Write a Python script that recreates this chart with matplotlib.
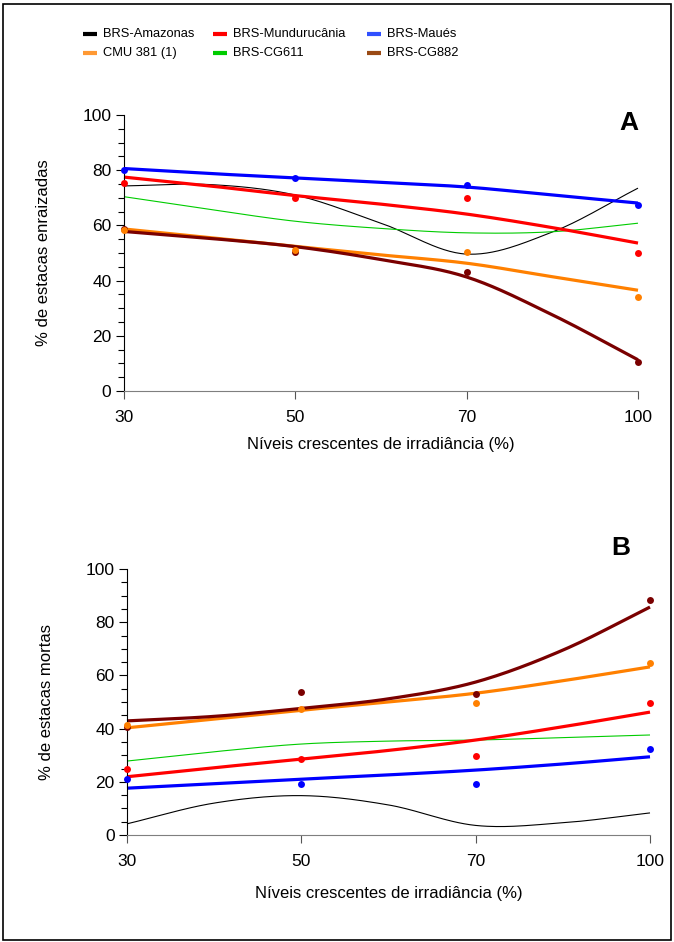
import matplotlib
matplotlib.use("Agg")
import matplotlib.pyplot as plt
import numpy as np
from matplotlib.lines import Line2D
from matplotlib.patches import Rectangle
from matplotlib.ticker import MultipleLocator

plt.rcParams["font.family"] = ["Liberation Sans", "DejaVu Sans"]

# irradiance levels, drawn as evenly spaced categories
LEVELS = ["30", "50", "70", "100"]
CULTIVARS = ["BRS-Amazonas", "BRS-Mundurucânia", "BRS-Maués",
             "CMU 381 (1)", "BRS-CG611", "BRS-CG882"]
COLORS = ["#000000", "#ff0000", "#0000ff", "#ff8000", "#00cc00", "#7a0000"]
LEGEND_COLORS = ["#000000", "#ff0000", "#3050ff", "#ff9933", "#00cc00", "#9a4a14"]
THICK = [False, True, True, True, False, True]

# observed points (series without dots are left out)
rooted_pts = {
    "BRS-Mundurucânia": [75.3, 70.0, 70.0, 50.0],
    "BRS-Maués": [80.0, 77.2, 74.6, 67.4],
    "CMU 381 (1)": [58.3, 51.0, 50.4, 34.0],
    "BRS-CG882": [58.8, 50.3, 43.0, 10.5],
}
dead_pts = {
    "BRS-Mundurucânia": [24.8, 28.6, 29.7, 49.6],
    "BRS-Maués": [21.0, 19.2, 19.2, 32.3],
    "CMU 381 (1)": [41.3, 47.4, 49.6, 64.7],
    "BRS-CG882": [40.6, 53.8, 53.0, 88.3],
}
DOT_ORDER = ["BRS-CG882", "BRS-Mundurucânia", "BRS-Maués", "CMU 381 (1)"]

# fitted trend lines read at every half category (0, 0.5, ..., 3)
rooted_fit = {
    "BRS-Amazonas": [74.3, 74.8, 71.0, 60.8, 49.6, 57.6, 73.5],
    "BRS-Mundurucânia": [77.5, 74.3, 70.8, 67.7, 64.1, 59.2, 53.6],
    "BRS-Maués": [80.6, 78.8, 77.2, 75.6, 73.9, 71.0, 68.1],
    "CMU 381 (1)": [58.7, 55.6, 52.4, 49.3, 46.3, 41.4, 36.5],
    "BRS-CG611": [70.4, 65.8, 61.5, 58.9, 57.3, 57.7, 60.8],
    "BRS-CG882": [57.8, 55.3, 52.3, 47.6, 41.3, 27.6, 11.3],
}
dead_fit = {
    "BRS-Amazonas": [4.2, 12.0, 14.8, 11.3, 3.6, 4.6, 8.3],
    "BRS-Mundurucânia": [21.9, 25.3, 28.5, 31.8, 35.7, 40.7, 46.2],
    "BRS-Maués": [17.6, 19.3, 21.0, 22.6, 24.4, 26.7, 29.4],
    "CMU 381 (1)": [40.3, 43.6, 46.9, 50.0, 53.3, 58.0, 63.2],
    "BRS-CG611": [27.8, 31.3, 34.2, 35.3, 35.7, 36.6, 37.6],
    "BRS-CG882": [42.9, 44.6, 47.6, 51.2, 57.5, 69.5, 85.7],
}


def catmull_rom(xs, ys, n=30):
    xs = np.asarray(xs, float)
    ys = np.asarray(ys, float)
    px = np.concatenate([[2 * xs[0] - xs[1]], xs, [2 * xs[-1] - xs[-2]]])
    py = np.concatenate([[2 * ys[0] - ys[1]], ys, [2 * ys[-1] - ys[-2]]])
    out_x, out_y = [], []
    t = np.linspace(0, 1, n, endpoint=False)
    for i in range(1, len(px) - 2):
        for p, out in ((px, out_x), (py, out_y)):
            p0, p1, p2, p3 = p[i - 1], p[i], p[i + 1], p[i + 2]
            out.extend(0.5 * (2 * p1 + (-p0 + p2) * t
                              + (2 * p0 - 5 * p1 + 4 * p2 - p3) * t ** 2
                              + (-p0 + 3 * p1 - 3 * p2 + p3) * t ** 3))
    out_x.append(xs[-1])
    out_y.append(ys[-1])
    return np.array(out_x), np.array(out_y)


def draw_panel(ax, fits, pts, ylabel, tag, tag_xy, xlabelpad):
    pos = np.arange(len(LEVELS))
    half = np.arange(len(next(iter(fits.values())))) * 0.5
    # thin lines below, thick ones on top
    for name, color, thick in sorted(zip(CULTIVARS, COLORS, THICK), key=lambda k: k[2]):
        sx, sy = catmull_rom(half, fits[name])
        ax.plot(sx, sy, color=color, lw=2.3 if thick else 0.8,
                solid_capstyle='butt', clip_on=False, zorder=2)
    for name in DOT_ORDER:
        color = COLORS[CULTIVARS.index(name)]
        ax.plot(pos, pts[name], 'o', color=color, ms=5, mec='none',
                clip_on=False, zorder=3)
    ax.set_xlim(0, 3)
    ax.set_ylim(0, 100)
    ax.set_xticks(pos)
    ax.set_xticklabels(LEVELS)
    ax.yaxis.set_major_locator(MultipleLocator(20))
    ax.yaxis.set_minor_locator(MultipleLocator(5))
    for s in ('top', 'right'):
        ax.spines[s].set_visible(False)
    ax.spines['left'].set_color('black')
    ax.spines['bottom'].set_color('#7f7f7f')
    ax.tick_params(axis='y', which='major', length=6, width=0.8, pad=3,
                   labelsize=12.5, direction='out')
    ax.tick_params(axis='y', which='minor', length=4, width=0.8, direction='out')
    ax.tick_params(axis='x', length=6, width=0.8, color='#555555', pad=8,
                   labelsize=12.5, direction='out')
    ax.set_xlabel("Níveis crescentes de irradiância (%)", fontsize=12, labelpad=xlabelpad)
    ax.set_ylabel(ylabel, fontsize=12, labelpad=23)
    ax.text(tag_xy[0], tag_xy[1], tag, transform=ax.transAxes, fontsize=19,
            fontweight='bold', ha='center', va='center')


fig = plt.figure(figsize=(6.74, 9.42), dpi=100)
W, H = 674, 942


def fig_axes(left, right, top, bottom):
    return fig.add_axes([left / W, 1 - bottom / H, (right - left) / W, (bottom - top) / H])


ax_a = fig_axes(124, 638, 115, 391)
ax_b = fig_axes(127, 650, 569, 835)
draw_panel(ax_a, rooted_fit, rooted_pts, "% de estacas enraizadas", "A", (0.982, 0.97), 8)
draw_panel(ax_b, dead_fit, dead_pts, "% de estacas mortas", "B", (0.945, 1.08), 12)

# legend, filled row by row
col_x = [83, 213, 367]
row_y = [34, 53]
for i, (name, color) in enumerate(zip(CULTIVARS, LEGEND_COLORS)):
    r, c = divmod(i, 3)
    x0, y0 = col_x[c], row_y[r]
    fig.add_artist(Line2D([x0 / W, (x0 + 14) / W], [1 - y0 / H, 1 - y0 / H],
                          color=color, lw=3, solid_capstyle='butt'))
    fig.text((x0 + 20) / W, 1 - y0 / H, name, fontsize=9.3, va='center', ha='left')

fig.add_artist(Rectangle((3 / W, 2 / H), 668 / W, 936 / H, fill=False,
                         edgecolor='black', lw=1.2, transform=fig.transFigure))

plt.savefig("out.png", dpi=100)
